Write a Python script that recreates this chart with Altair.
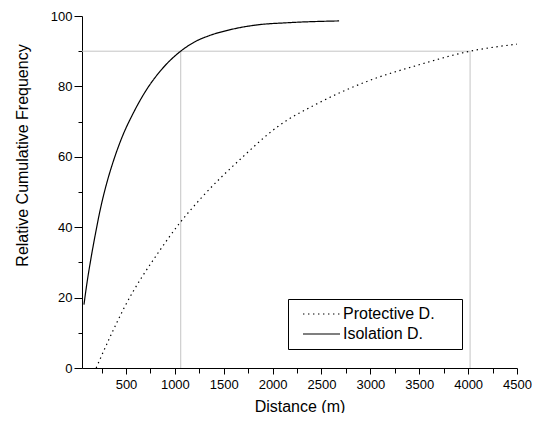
import altair as alt
import pandas as pd

# Isolation distance curve
iso_x = [70, 100, 144, 190, 229, 270, 313, 398, 466, 567, 686, 855, 1059, 1200, 1350, 1550, 1821, 2160, 2680]
iso_y = [18.0, 24.0, 31.5, 38.5, 44.0, 49.0, 53.5, 61.0, 66.0, 72.0, 78.0, 84.5, 90.0, 92.6, 94.4, 96.0, 97.4, 98.1, 98.6]

# Protective distance curve
pro_x = [195, 340, 483, 838, 1059, 1279, 1669, 2058, 2464, 2973, 3481, 4020, 4500]
pro_y = [0.0, 9.0, 17.2, 33.1, 41.5, 48.6, 59.3, 68.7, 75.2, 81.5, 86.0, 90.0, 92.0]

series_names = ["Protective D.", "Isolation D."]

# 90th-percentile guide lines
guide_x = [50, 1060, 4020]
guide_x2 = [4020, 1060, 4020]
guide_y = [90, 0, 0]
guide_y2 = [90, 90, 90]

x_ticks = list(range(250, 4501, 250))
y_ticks = list(range(0, 101, 10))

lines = pd.DataFrame(
    {"x": pro_x + iso_x,
     "y": pro_y + iso_y,
     "series": [series_names[0]] * len(pro_x) + [series_names[1]] * len(iso_x)}
)
guides = pd.DataFrame({"x": guide_x, "x2": guide_x2, "y": guide_y, "y2": guide_y2})

FONT = "Liberation Sans"
# non-breaking spaces closed by a zero-width space so they are not trimmed
PAD = "\u00a0" * 5 + "\u200b"

x_axis = alt.Axis(
    values=x_ticks,
    labelExpr="datum.value % 500 === 0 ? datum.label : ''",
    tickSize={"condition": {"test": "datum.value % 500 === 0", "value": 6}, "value": 5},
    labelPadding=4,
    labelOverlap=False,
    labelFlush=False,
    grid=False,
    title="Distance (m)",
    titleY=43,
    titleBaseline="alphabetic",
    format="d",
)
y_axis = alt.Axis(
    values=y_ticks,
    labelExpr="datum.value % 20 === 0 ? datum.label : ''",
    tickSize={"condition": {"test": "datum.value % 20 === 0", "value": 8}, "value": 4},
    labelPadding=2,
    labelOverlap=False,
    labelFlush=False,
    grid=False,
    title="Relative Cumulative Frequency",
    titleX=-55,
    titleY=139,
    titleAngle=-90,
    titleAlign="center",
    titleBaseline="alphabetic",
)

xs = alt.Scale(domain=[50, 4500], nice=False, zero=False)
ys = alt.Scale(domain=[0, 100], nice=False)

rules = alt.Chart(guides).mark_rule(color="#c4c4c4", strokeWidth=1).encode(
    x=alt.X("x:Q", scale=xs, axis=x_axis),
    x2="x2:Q",
    y=alt.Y("y:Q", scale=ys, axis=y_axis),
    y2="y2:Q",
)

curves = alt.Chart(lines).mark_line(color="black", strokeWidth=1.2, interpolate="monotone").encode(
    x=alt.X("x:Q", scale=xs, axis=x_axis),
    y=alt.Y("y:Q", scale=ys, axis=y_axis),
    strokeDash=alt.StrokeDash(
        "series:N",
        scale=alt.Scale(domain=series_names, range=[[1.4, 3.6], [1, 0]]),
        legend=alt.Legend(
            title=None,
            orient="none",
            legendX=206,
            legendY=283,
            symbolType="stroke",
            symbolSize=1369,
            symbolStrokeWidth=1.2,
            symbolStrokeColor="black",
            clipHeight=20,
            rowPadding=0,
            padding=5,
            symbolOffset=9,
            labelOffset=2,
            labelFont=FONT,
            labelFontSize=16,
            labelColor="black",
            labelLimit=300,
            labelExpr="datum.label + '" + PAD + "'",
            strokeColor="black",
            fillColor="white",
        ),
    ),
    order="x:Q",
)

chart = (
    alt.layer(rules, curves)
    .properties(
        width=435,
        height=352,
        autosize=alt.AutoSizeParams(type="none"),
        padding={"left": 74, "top": 8, "right": 15, "bottom": 45},
    )
    .configure_view(stroke=None)
    .configure_axis(
        domainColor="black",
        domainWidth=1,
        tickColor="black",
        tickWidth=1,
        labelFont=FONT,
        labelFontSize=13,
        labelColor="black",
        titleFont=FONT,
        titleFontSize=16,
        titleFontWeight="normal",
        titleColor="black",
    )
)

chart.save("out.html", embed_options={"renderer": "svg", "actions": False})
